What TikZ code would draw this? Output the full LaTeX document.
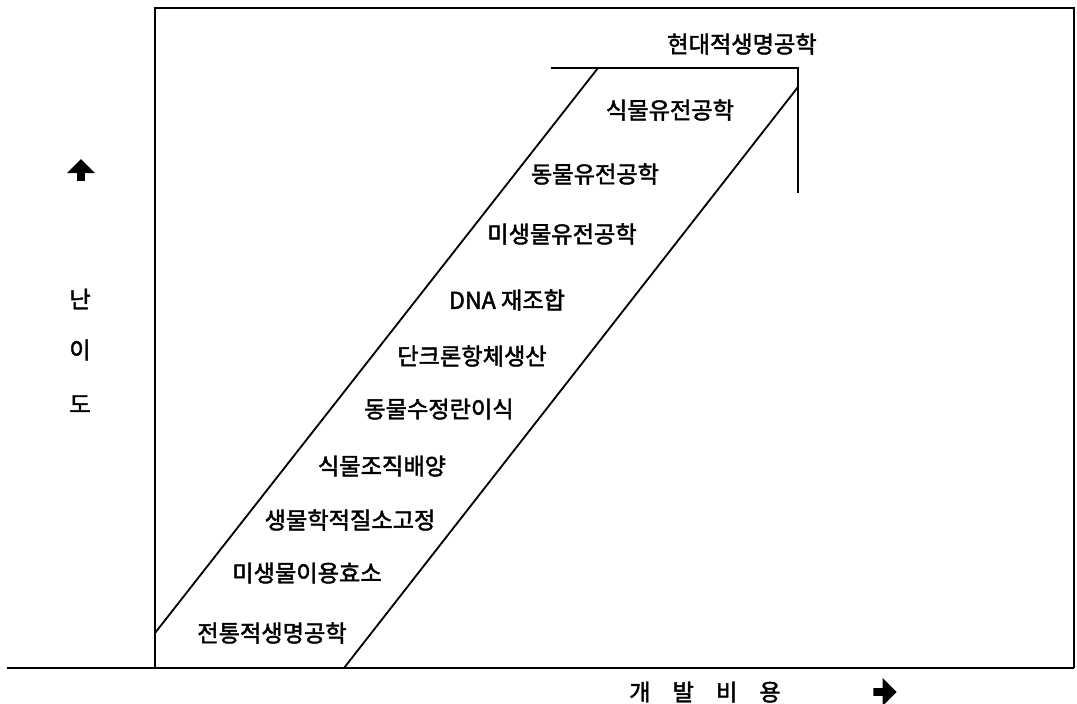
\documentclass[tikz,border=0pt]{standalone}
\usepackage{fontspec}
\newfontfamily\kr[FakeBold=2]{Noto Sans CJK KR}
\usetikzlibrary{shapes.arrows}

\tikzset{
    label/.style={font=\kr\fontsize{16.5}{18}\selectfont, inner sep=0pt},
    frame/.style={line width=1.3pt, black},
    blockarrow/.style={single arrow, fill=black, draw=none, inner sep=2.6pt,
        single arrow head indent=0pt}
}

\begin{document}
\begin{tikzpicture}[x=0.025cm, y=-0.025cm]
    \useasboundingbox (0,0) rectangle (1077,703);

    % Axes and frame
    \draw[frame] (155,668) -- (155,8) -- (1074,8) -- (1074,668);
    \draw[frame] (7,668) -- (1074,668);

    % Band of techniques
    \coordinate (lowL) at (155,633);
    \coordinate (topL) at (598,68);
    \coordinate (capL) at (551,68);
    \coordinate (capR) at (798,68);
    \coordinate (hookB) at (798,193);
    \coordinate (lowR) at (344,668);
    \coordinate (topR) at (798,87);
    \draw[frame] (lowL) -- (topL);
    \draw[frame] (capL) -- (capR) -- (hookB);
    \draw[frame] (lowR) -- (topR);

    % Labels along the band
    \node[label] (modern) at (742,44) {현대적생명공학};
    \node[label] (plantgen) at (670,110) {식물유전공학};
    \node[label] (animalgen) at (595,174) {동물유전공학};
    \node[label] (microgen) at (562,234) {미생물유전공학};
    \node[label] (dna) at (507,300) {DNA 재조합};
    \node[label] (mab) at (472,356) {단크론항체생산};
    \node[label] (embryo) at (439,409) {동물수정란이식};
    \node[label] (tissue) at (382,466) {식물조직배양};
    \node[label] (nitro) at (350,520) {생물학적질소고정};
    \node[label] (enzyme) at (307,573) {미생물이용효소};
    \node[label] (classic) at (272,633) {전통적생명공학};

    % Axis titles
    \node[blockarrow, shape border rotate=90, minimum width=11.5pt, minimum height=15.5pt] (uparrow) at (81,172) {};
    \node[label] (nan) at (80,299) {난};
    \node[label] (i) at (80,350) {이};
    \node[label] (do) at (80,404) {도};
    \node[label] (cost) at (705,692) {개\hspace{0.55cm}발\hspace{0.55cm}비\hspace{0.55cm}용};
    \node[blockarrow, minimum width=10pt, minimum height=16.5pt] (rightarrow) at (883,692) {};

\end{tikzpicture}
\end{document}
